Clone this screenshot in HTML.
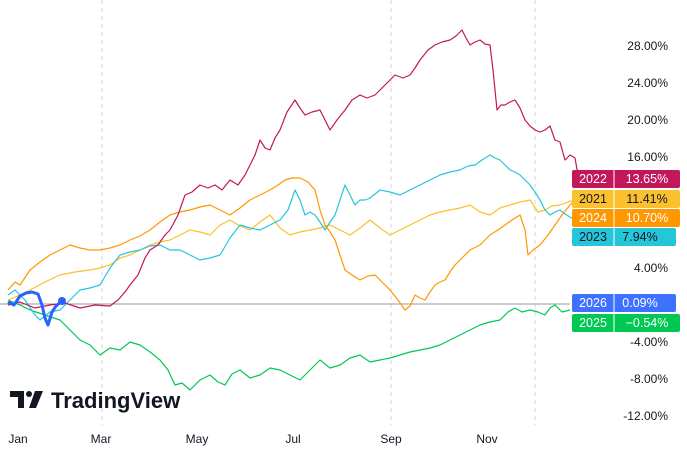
<!DOCTYPE html><html><head><style>body{margin:0;background:#fff;width:687px;height:462px;overflow:hidden;font-family:"Liberation Sans",sans-serif}</style></head><body>
<svg width="687" height="462" xmlns="http://www.w3.org/2000/svg" font-family="Liberation Sans, sans-serif">
<g stroke="#d6d6d6" stroke-dasharray="4,4"><line x1="102" y1="0" x2="102" y2="425"/><line x1="391" y1="0" x2="391" y2="425"/><line x1="535" y1="0" x2="535" y2="425"/></g>
<line x1="0" y1="304" x2="570" y2="304" stroke="#9598a1" stroke-width="1"/>
<g fill="none" stroke-width="1.2" stroke-linejoin="round">
<polyline stroke="#00c853" points="8,300 20,305 30,310 45,315 60,320 70,330 80,340 90,345 100,355 110,348 120,350 130,342 140,345 150,352 160,360 168,370 175,385 182,383 190,390 200,380 210,375 218,382 225,385 232,374 240,370 250,378 260,375 270,368 280,370 290,375 300,380 310,370 320,360 330,368 340,365 350,358 360,355 370,362 380,360 390,358 400,355 410,352 420,350 430,348 440,345 450,340 460,335 470,330 480,325 490,322 500,320 508,312 515,308 522,312 530,310 538,312 545,315 550,308 555,305 562,312 570,310"/>
<polyline stroke="#fbc02d" points="8,300 20,295 30,290 45,282 60,275 75,272 90,270 100,268 110,265 120,258 130,255 140,250 150,245 160,242 170,240 180,235 190,230 200,232 210,235 220,225 230,220 240,226 250,230 260,222 270,215 280,228 290,235 300,232 310,230 320,228 330,225 340,230 350,235 360,228 370,220 380,228 390,235 400,230 410,225 420,220 430,215 440,212 450,210 460,208 470,205 480,212 490,215 500,208 510,205 520,202 530,200 538,212 545,210 552,206 560,205 568,202 575,200"/>
<polyline stroke="#26c6da" points="8,295 15,290 25,300 35,315 40,320 50,312 60,310 70,300 80,290 90,288 100,285 110,268 120,255 130,252 140,250 150,246 160,245 170,250 180,250 190,255 200,260 210,258 220,255 230,238 240,225 250,228 260,230 270,225 280,220 288,210 295,190 300,200 305,215 310,212 315,215 320,222 325,230 330,222 335,215 340,200 345,185 350,195 355,205 360,200 365,200 370,198 380,190 390,192 400,195 410,190 420,185 430,180 440,175 450,172 460,170 468,166 475,165 482,160 490,155 495,158 500,160 505,165 510,170 515,172 520,175 525,180 530,185 535,192 540,200 545,210 550,215 555,212 560,210 565,214 575,220"/>
<polyline stroke="#ff9800" points="8,290 15,282 20,285 30,270 40,262 50,255 60,250 70,245 80,248 90,250 100,250 110,248 120,245 130,240 140,236 150,230 160,222 170,215 180,212 190,210 200,207 210,205 220,210 230,215 240,208 250,200 260,195 270,190 278,185 285,180 292,178 300,178 308,182 315,190 320,210 325,225 330,232 335,240 340,255 345,270 352,275 360,280 368,276 375,275 382,282 390,290 398,300 405,310 410,306 415,295 420,298 425,300 430,292 435,285 440,282 445,280 450,272 455,265 462,258 470,250 480,245 490,235 498,230 505,225 512,220 520,215 525,230 528,255 533,250 540,245 548,235 555,225 562,215 570,205 575,200"/>
<polyline stroke="#c2185b" points="8,305 20,302 35,308 50,305 65,303 80,308 95,305 110,306 118,300 125,292 130,285 138,275 145,258 150,250 158,245 165,235 170,230 178,215 185,195 192,192 200,185 208,188 215,185 222,190 230,180 238,185 245,175 250,165 255,155 260,140 265,148 270,150 275,138 280,130 287,112 295,100 300,108 305,115 312,112 320,110 325,120 330,130 337,120 345,110 352,100 360,95 367,98 375,95 380,90 385,85 390,80 395,75 403,78 410,75 415,68 420,60 428,50 435,45 442,42 450,40 456,36 462,30 466,38 470,45 475,42 480,40 485,44 490,45 493,70 497,110 501,105 505,105 510,102 515,100 520,108 525,120 530,126 535,130 540,132 545,130 550,126 555,140 560,142 565,160 570,155 575,158 578,175"/>
<polyline stroke="#2962ff" stroke-width="3" points="8,302 14,305 20,296 26,293 32,292 38,294 42,305 45,318 48,325 52,312 56,306 62,301"/>
</g>
<circle cx="62" cy="301" r="4" fill="#2962ff"/>
<g font-size="12" fill="#131722" text-anchor="end">
<text x="668" y="50">28.00%</text><text x="668" y="87">24.00%</text><text x="668" y="124">20.00%</text><text x="668" y="161">16.00%</text><text x="668" y="272">4.00%</text><text x="668" y="346">-4.00%</text><text x="668" y="383">-8.00%</text><text x="668" y="420">-12.00%</text>
</g>
<g font-size="12" fill="#131722" text-anchor="middle"><text x="18" y="443">Jan</text><text x="101" y="443">Mar</text><text x="197" y="443">May</text><text x="293" y="443">Jul</text><text x="391" y="443">Sep</text><text x="487" y="443">Nov</text></g>
<g font-size="12.5" text-anchor="middle">
<rect x="572" y="170" width="108" height="18" rx="2" fill="#c2185b"/><text x="593" y="183" fill="#fff">2022</text><text x="647" y="183" fill="#fff">13.65%</text>
<rect x="572" y="190" width="108" height="18" rx="2" fill="#fbc02d"/><text x="593" y="203" fill="#131722">2021</text><text x="647" y="203" fill="#131722">11.41%</text>
<rect x="572" y="209" width="108" height="18" rx="2" fill="#ff9800"/><text x="593" y="222" fill="#fff">2024</text><text x="647" y="222" fill="#fff">10.70%</text>
<rect x="572" y="228" width="104" height="18" rx="2" fill="#26c6da"/><text x="593" y="241" fill="#131722">2023</text><text x="640" y="241" fill="#131722">7.94%</text>
<rect x="572" y="294" width="104" height="18" rx="2" fill="#2962ff" opacity="0.9"/><text x="593" y="307" fill="#fff">2026</text><text x="640" y="307" fill="#fff">0.09%</text>
<rect x="572" y="314" width="108" height="18" rx="2" fill="#00c853"/><text x="593" y="327" fill="#fff">2025</text><text x="647" y="327" fill="#fff">−0.54%</text>
<g stroke="#fff"><line x1="614" y1="170" x2="614" y2="246"/><line x1="614" y1="294" x2="614" y2="332"/></g>
</g>
<g fill="#131722"><path d="M10 391h14v17h-6v-11h-8z"/><circle cx="29" cy="394" r="3"/><path d="M35 391h8l-7 17h-7z"/></g>
<text x="51" y="408" font-size="22" font-weight="bold" fill="#131722">TradingView</text>
</svg></body></html>
